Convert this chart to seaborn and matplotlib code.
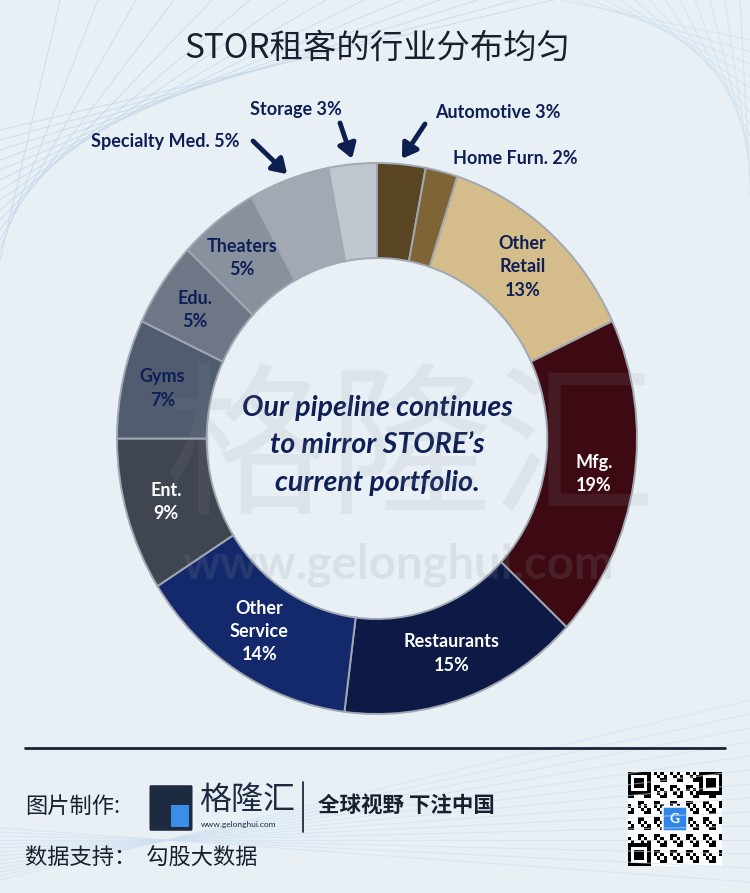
# STOR tenant industry mix - donut chart recreation
import numpy as np
import seaborn as sns
import matplotlib.pyplot as plt
from matplotlib.patches import FancyBboxPatch, Rectangle
from matplotlib.lines import Line2D

# data, clockwise from 12 o'clock
industries = ["Automotive", "Home Furn.", "Other\nRetail", "Mfg.", "Restaurants",
              "Other\nService", "Ent.", "Gyms", "Edu.", "Theaters",
              "Specialty Med.", "Storage"]
shares = [3, 2, 13, 19, 15, 14, 9, 7, 5, 5, 5, 3]
colors = ["#5a4522", "#7f6535", "#d4bd8a", "#3d0a14", "#0c1a45", "#13296b",
          "#3f4551", "#525c70", "#6f7787", "#8a919e", "#a3a9b2", "#c0c6ce"]
white_labels = ["Mfg.", "Restaurants", "Other\nService", "Ent."]
outside_labels = ["Automotive", "Home Furn.", "Specialty Med.", "Storage"]

title = "STOR租客的行业分布均匀"
center_note = "Our pipeline continues\nto mirror STORE\u2019s\ncurrent portfolio."

W, H = 750, 893
BG = "#e9f0f5"
NAVY = "#0d1f55"

sns.set_theme(style="white")
plt.rcParams["font.family"] = ["Lato", "DejaVu Sans"]


def fx(px):
    return px / W


def fy(py):
    return 1 - py / H


fig = plt.figure(figsize=(W / 100, H / 100), dpi=100, facecolor=BG)

# faint background streaks
for i in range(14):
    fig.add_artist(Line2D([0, fx(60 + i * 38)], [fy(260 - i * 10), 1],
                          color="#c3d7ea", lw=0.8, alpha=0.7))
    fig.add_artist(Line2D([fx(560 + i * 15), 1], [1, fy(40 + i * 12)],
                          color="#cfe0ee", lw=0.8, alpha=0.7))
    fig.add_artist(Line2D([0, 1], [fy(880 - i * 4), fy(700 + i * 14)],
                          color="#cddff0", lw=0.8, alpha=0.6))

# watermark
fig.text(fx(410), fy(455), "格隆汇", fontsize=118, color="#8a8f96", alpha=0.12,
         ha="center", va="center", family=["Noto Sans CJK SC"])
fig.text(fx(398), fy(565), "www.gelonghui.com", fontsize=34, color="#8a8f96",
         alpha=0.16, ha="center", va="center", fontweight="bold")

# title
fig.text(fx(377), fy(48), title, fontsize=24, color="#1a1f2e", ha="center",
         va="center", family=["Noto Sans CJK SC", "DejaVu Sans"])

# donut
ax = fig.add_axes([fx(117), fy(714), 520 / W, 551 / H])
wedges, _ = ax.pie(shares, colors=colors, startangle=90, counterclock=False,
                   radius=1.0,
                   wedgeprops=dict(width=0.345, edgecolor="#a0a8b4",
                                   linewidth=1.4, clip_on=False))
ax.set_aspect("auto")
ax.set_xlim(-1, 1)
ax.set_ylim(-1, 1)
ax.axis("off")

for w, name, val in zip(wedges, industries, shares):
    if name in outside_labels:
        continue
    mid = np.deg2rad((w.theta1 + w.theta2) / 2)
    col = "white" if name in white_labels else NAVY
    ax.text(0.845 * np.cos(mid), 0.83 * np.sin(mid), f"{name}\n{val}%",
            ha="center", va="center", fontsize=13, fontweight="bold",
            color=col, linespacing=1.45)

# outside labels, some with arrows
outside_pos = {"Automotive": (498, 113, True), "Home Furn.": (515, 158, False),
               "Specialty Med.": (165, 141, True), "Storage": (296, 110, True)}
arrow_tail = {"Automotive": (425, 124), "Specialty Med.": (253, 141),
              "Storage": (340, 123)}
for w, name, val in zip(wedges, industries, shares):
    if name not in outside_labels:
        continue
    px, py, has_arrow = outside_pos[name]
    fig.text(fx(px), fy(py), f"{name} {val}%", ha="center", va="center",
             fontsize=13, fontweight="bold", color=NAVY)
    if has_arrow:
        mid = np.deg2rad((w.theta1 + w.theta2) / 2)
        tx, ty = arrow_tail[name]
        ax.annotate("", xy=(1.02 * np.cos(mid), 1.02 * np.sin(mid)),
                    xytext=(fx(tx), fy(ty)), textcoords="figure fraction",
                    annotation_clip=False,
                    arrowprops=dict(arrowstyle="-|>,head_width=0.45,head_length=0.7",
                                    lw=3.5, color="#0d1f4f", shrinkA=0, shrinkB=0))

ax.text(0, -0.025, center_note, ha="center", va="center", fontsize=20.5,
        fontweight="bold", fontstyle="italic", color=NAVY, linespacing=1.55)

# footer
fig.add_artist(Line2D([fx(25), fx(725)], [fy(748), fy(748)], color="#1a2236", lw=2))
cjk = ["Noto Sans CJK SC", "DejaVu Sans"]
fig.text(fx(25), fy(806), "图片制作:", fontsize=16, color="#1a1f2e", va="center",
         family=cjk)
fig.text(fx(25), fy(858), "数据支持：  勾股大数据", fontsize=16, color="#1a1f2e",
         va="center", family=cjk)
fig.add_artist(FancyBboxPatch((fx(151), fy(829)), 40 / W, 42 / H,
                              boxstyle="round,pad=0.002", fc="#1e2a40", ec="none"))
fig.add_artist(Rectangle((fx(171), fy(827)), 18 / W, 22 / H, fc="#3a8ee6", ec="none"))
fig.text(fx(199), fy(800), "格隆汇", fontsize=23, color="#1e2a40", va="center",
         family=cjk)
fig.text(fx(201), fy(825), "www.gelonghui.com", fontsize=6, color="#1e2a40",
         va="center")
fig.add_artist(Line2D([fx(303), fx(303)], [fy(782), fy(832)], color="#1e2a40", lw=1.3))
fig.text(fx(318), fy(805), "全球视野 下注中国", fontsize=15.5, color="#1a1f2e",
         va="center", fontweight="bold", family=cjk)

# QR-code style badge (decorative)
qax = fig.add_axes([fx(628), fy(866), 94 / W, 94 / H])
n = 29
ii, jj = np.meshgrid(np.arange(n), np.arange(n))
qr = (((ii * 7 + jj * 13 + ii * jj) % 5) < 2).astype(float)
for (r0, c0) in [(0, 0), (0, n - 7), (n - 7, 0)]:
    qr[r0:r0 + 7, c0:c0 + 7] = 1
    qr[r0 + 1:r0 + 6, c0 + 1:c0 + 6] = 0
    qr[r0 + 2:r0 + 5, c0 + 2:c0 + 5] = 1
qax.imshow(qr, cmap="Greys", interpolation="nearest")
qax.add_patch(FancyBboxPatch((10.5, 10.5), 7, 7, boxstyle="round,pad=0.3",
                             fc="#2f86e8", ec="white", lw=1.5))
qax.text(14, 14, "G", color="white", fontsize=10, fontweight="bold",
         ha="center", va="center")
qax.axis("off")

fig.savefig("out.png", dpi=100, facecolor=BG)
